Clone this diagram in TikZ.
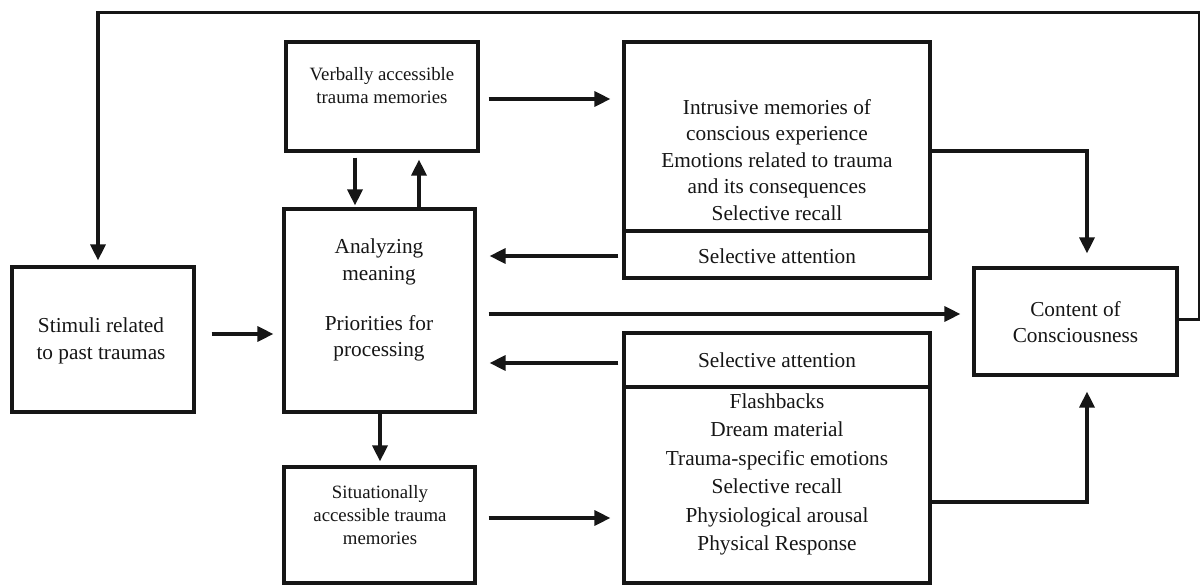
\documentclass[tikz,border=0pt]{standalone}
\usepackage{fontspec}
\setmainfont{Liberation Serif}
\usetikzlibrary{arrows.meta,calc}
\definecolor{ink}{HTML}{161616}
\begin{document}
\begin{tikzpicture}[x=1pt,y=-1pt,
  box/.style={draw=ink, line width=3.2pt, rectangle, inner sep=0pt},
  arr/.style={draw=ink, line width=3.3pt, -{Triangle[length=16pt,width=15pt]}},
  txt/.style={text=ink, align=center, inner sep=0pt, font=\fontsize{21.3}{26.5}\selectfont},
  small/.style={text=ink, align=center, inner sep=0pt, font=\fontsize{18.8}{23}\selectfont}]
\useasboundingbox (0,0) rectangle (1200,585);
\fill[white] (0,0) rectangle (1200,585);

% boxes
\node[box, minimum width=182pt, minimum height=145pt] (stim) at (103,339.5) {};
\node[box, minimum width=192pt, minimum height=109pt] (verb) at (382,96.5) {};
\node[box, minimum width=191pt, minimum height=203pt] (ana) at (379.5,310.5) {};
\node[box, minimum width=191pt, minimum height=116pt] (sit) at (379.5,525) {};
\node[box, minimum width=306pt, minimum height=189pt] (intrTop) at (777,136.5) {};
\node[box, minimum width=306pt, minimum height=47pt] (intrAtt) at (777,254.5) {};
\node[box, minimum width=306pt, minimum height=54pt] (lowAtt) at (777,360) {};
\node[box, minimum width=306pt, minimum height=196pt] (lowBody) at (777,485) {};
\node[box, minimum width=203pt, minimum height=107pt] (cont) at (1075.5,321.5) {};

% labels
\node[txt] (stimTxt) at (101,341) {Stimuli related\\to past traumas};
\node[small] (verbTxt) at (382,86) {Verbally accessible\\trauma memories};
\node[txt] (anaTxt) at (379,300) {Analyzing\\meaning\\[23.5pt]Priorities for\\processing};
\node[small] (sitTxt) at (380,515) {Situationally\\accessible trauma\\memories};
\node[txt] (intrTxt) at (777,160) {Intrusive memories of\\conscious experience\\Emotions related to trauma\\and its consequences\\Selective recall};
\node[txt] (intrAttTxt) at (777,256.5) {Selective attention};
\node[txt] (lowAttTxt) at (777,360) {Selective attention};
\node[txt, font=\fontsize{21.3}{28.4}\selectfont] (lowTxt) at (777,474.5) {Flashbacks\\Dream material\\Trauma-specific emotions\\Selective recall\\Physiological arousal\\Physical Response};
\node[txt] (contTxt) at (1075.5,322) {Content of\\Consciousness};

% connectors
\draw[arr] ($(stim.east)+(16,-5.5)$) -- ($(ana.west)+(-9,23.5)$);
\draw[arr] ($(verb.south)+(-27,5)$) -- ($(ana.north)+(-24.5,-2)$);
\draw[arr] ($(ana.north)+(39.5,0)$) -- ($(verb.south)+(37,7)$);
\draw[arr] ($(verb.east)+(9,2.5)$) -- ($(intrTop.west)+(-12,-37.5)$);
\draw[arr] ($(intrAtt.west)+(-4,1.5)$) -- ($(ana.east)+(13,-54.5)$);
\draw[arr] ($(ana.east)+(12,3.5)$) -- ($(cont.west)+(-12,-7.5)$);
\draw[arr] ($(lowAtt.west)+(-4,3)$) -- ($(ana.east)+(13,52.5)$);
\draw[arr] ($(ana.south)+(0.5,0)$) -- ($(sit.north)+(0.5,-4)$);
\draw[arr] ($(sit.east)+(12,-7)$) -- ($(lowBody.west)+(-12,33)$);
\draw[arr] ($(intrTop.east)+(0,14.5)$) -| ($(cont.north)+(11.5,-13)$);
\draw[arr] ($(lowBody.east)+(0,17)$) -| ($(cont.south)+(11.5,15)$);
\draw[arr] ($(cont.east)+(0,-2)$) -- ++(21,0) |- ($(stim.north)+(-5,-253)$) -- ($(stim.north)+(-5,-5)$);
\end{tikzpicture}
\end{document}
